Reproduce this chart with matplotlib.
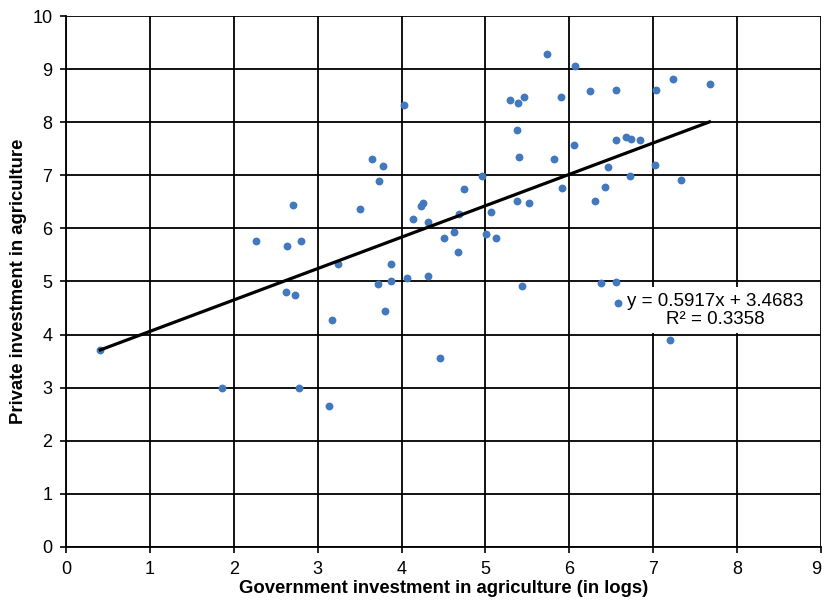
import matplotlib
matplotlib.use("Agg")
import matplotlib.pyplot as plt
import numpy as np

# government investment (logs) vs private investment
gov_inv = [0.41, 1.86, 2.26, 2.64, 2.71, 2.62, 2.73, 2.80, 2.78, 3.13,
           3.17, 3.24, 3.51, 3.65, 3.78, 3.73, 3.72, 3.80, 3.88, 3.88,
           4.03, 4.07, 4.14, 4.23, 4.25, 4.31, 4.32, 4.46, 4.51, 4.63,
           4.67, 4.69, 4.75, 4.96, 5.01, 5.06, 5.12, 5.29, 5.39, 5.46,
           5.37, 5.40, 5.38, 5.52, 5.43, 5.73, 5.82, 5.90, 5.91, 6.07,
           6.05, 6.24, 6.31, 6.38, 6.42, 6.46, 6.55, 6.56, 6.56, 6.58,
           6.67, 6.74, 6.84, 6.72, 7.03, 7.02, 7.20, 7.23, 7.33, 7.67]
priv_inv = [3.71, 2.99, 5.76, 5.66, 6.44, 4.80, 4.74, 5.77, 2.99, 2.65,
            4.28, 5.33, 6.37, 7.31, 7.17, 6.89, 4.95, 4.45, 5.33, 5.00,
            8.33, 5.07, 6.17, 6.43, 6.48, 5.11, 6.12, 3.56, 5.82, 5.94,
            5.55, 6.28, 6.75, 6.99, 5.89, 6.31, 5.82, 8.42, 8.36, 8.48,
            7.86, 7.35, 6.51, 6.47, 4.91, 9.28, 7.31, 8.48, 6.77, 9.06,
            7.57, 8.59, 6.51, 4.98, 6.78, 7.16, 8.61, 7.66, 4.99, 4.59,
            7.72, 7.69, 7.66, 6.99, 8.61, 7.20, 3.90, 8.81, 6.92, 8.72]

slope = 0.5917
intercept = 3.4683
r2 = 0.3358

plt.rcParams['font.family'] = ['Liberation Sans', 'DejaVu Sans']

fig = plt.figure(figsize=(8.24, 6.04), dpi=100)
ax = fig.add_axes([0.080, 0.0944, 0.9165, 0.8791])

ax.scatter(gov_inv, priv_inv, s=32, color='#4279BE', zorder=3, linewidths=0)

xs = np.array([min(gov_inv), max(gov_inv)])
ax.plot(xs, slope * xs + intercept, color='black', lw=2.3, zorder=4)

ax.text(7.74, 4.46, 'y = %.4fx + %.4f\nR² = %.4f' % (slope, intercept, r2),
        ha='center', va='center', fontsize=13.5, linespacing=1.1, zorder=2,
        bbox=dict(boxstyle='square,pad=0.3', facecolor='white', edgecolor='none'))

ax.set_xlim(0, 9)
ax.set_ylim(0, 10)
ax.set_xticks(range(0, 10))
ax.set_yticks(range(0, 11))
ax.grid(True, color='black', lw=1.3)
ax.set_axisbelow(True)
for s in ax.spines.values():
    s.set_visible(False)
ax.spines['left'].set_visible(True)
ax.spines['bottom'].set_visible(True)
ax.spines['left'].set_linewidth(1.3)
ax.spines['bottom'].set_linewidth(1.3)
ax.tick_params(length=4.3, width=1.2, labelsize=13, pad=5.5)
ax.get_xticklabels()[-1].set_ha('right')

ax.set_xlabel('Government investment in agriculture (in logs)', fontsize=13.3, fontweight='bold')
ax.set_ylabel('Private investment in agriculture', fontsize=13.3, fontweight='bold')
ax.xaxis.set_label_coords(0.5, -0.062)
ax.yaxis.set_label_coords(-0.052, 0.5)

fig.savefig('out.png', dpi=100)
